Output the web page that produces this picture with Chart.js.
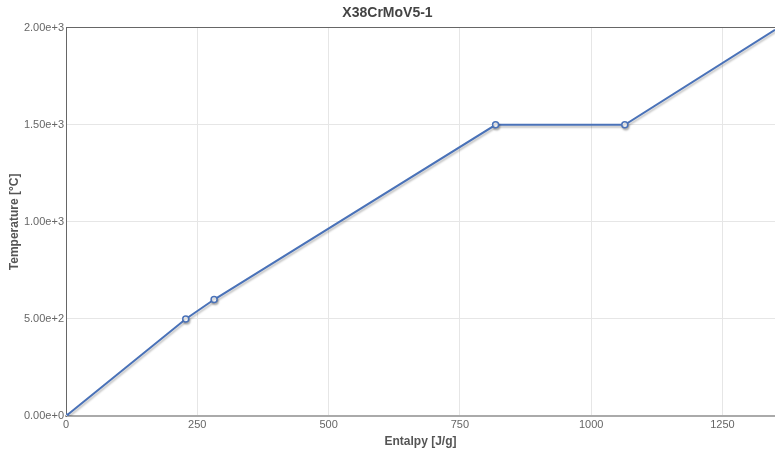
<!DOCTYPE html>
<html>
<head>
<meta charset="utf-8">
<script src="https://cdn.jsdelivr.net/npm/chart.js@4/dist/chart.umd.min.js"></script>
<style>
  html, body { margin: 0; padding: 0; background: #fff; }
  .chart-container { width: 775px; height: 451px; }
</style>
</head>
<body>
<div class="chart-container"><canvas id="chart-output"></canvas></div>
<script>
// data points
const enthalpy = [0, 228, 282, 818, 1064, 1350];
const temperature = [0, 500, 600, 1500, 1500, 1990];
const markerRadius = [2, 3, 3, 3, 3, 0];

// tick labels
const xTicks = [0, 250, 500, 750, 1000, 1250];
const yTicks = [0, 500, 1000, 1500, 2000];

const chartTitle = "X38CrMoV5-1";
const xTitle = "Entalpy [J/g]";
const yTitle = "Temperature [°C]";

// soft shadow under the line
const shadowPlugin = {
  id: "lineShadow",
  beforeDatasetsDraw(chart) {
    const ctx = chart.ctx;
    ctx.save();
    ctx.shadowColor = "rgba(0,0,0,0.25)";
    ctx.shadowBlur = 2;
    ctx.shadowOffsetX = 1;
    ctx.shadowOffsetY = 2;
  },
  afterDatasetsDraw(chart) {
    chart.ctx.restore();
  },
};

const points = enthalpy.map((x, i) => ({ x, y: temperature[i] }));

const ctx = document.querySelector("#chart-output").getContext("2d");
new Chart(ctx, {
  type: "line",
  data: {
    datasets: [
      {
        data: points,
        borderColor: "#4a72b8",
        borderWidth: 2,
        pointRadius: markerRadius,
        pointBorderWidth: 1.5,
        pointBackgroundColor: "#fff",
        pointBorderColor: "#4a72b8",
        tension: 0,
      },
    ],
  },
  options: {
    responsive: true,
    maintainAspectRatio: false,
    animation: false,
    // no extra room for the markers, the plot runs to the right edge
    layout: { padding: 0, autoPadding: false },
    plugins: {
      legend: { display: false },
      tooltip: { enabled: false },
      title: {
        display: true,
        text: chartTitle,
        color: "#444",
        font: { family: "Liberation Sans, Arial", size: 14, weight: "bold" },
        padding: { top: 5, bottom: 6 },
      },
    },
    scales: {
      x: {
        type: "linear",
        min: 0,
        max: 1350,
        afterBuildTicks(scale) {
          scale.ticks = xTicks.map((v) => ({ value: v }));
        },
        title: {
          display: true,
          text: xTitle,
          color: "#555",
          font: { family: "Liberation Sans, Arial", size: 12, weight: "bold" },
          padding: { top: 0, bottom: 2 },
        },
        ticks: {
          color: "#666",
          font: { family: "Liberation Sans, Arial", size: 11 },
          padding: 2,
          maxRotation: 0,
          callback: (value) => String(value),
        },
        grid: {
          color: (c) => (c.tick && c.tick.value === 0 ? "rgba(0,0,0,0)" : "#e6e6e6"),
          drawTicks: false,
        },
        border: { color: "#aaa", width: 2 },
        afterFit(scale) {
          scale.height = 35;
          scale.paddingRight = 0;
        },
      },
      y: {
        type: "linear",
        min: 0,
        max: 2000,
        afterBuildTicks(scale) {
          scale.ticks = yTicks.map((v) => ({ value: v }));
        },
        title: {
          display: true,
          text: yTitle,
          color: "#555",
          font: { family: "Liberation Sans, Arial", size: 12, weight: "bold" },
          padding: { top: 7, bottom: 4 },
        },
        ticks: {
          color: "#666",
          font: { family: "Liberation Sans, Arial", size: 11 },
          padding: 2,
          callback: (value) => Number(value).toExponential(2),
        },
        grid: {
          color: (c) => (c.tick && c.tick.value === 2000 ? "#666" : "#e6e6e6"),
          drawTicks: false,
        },
        border: { color: "#666", width: 1 },
        afterFit(scale) {
          scale.width = 66;
        },
      },
    },
  },
  plugins: [shadowPlugin],
});
</script>
</body>
</html>
